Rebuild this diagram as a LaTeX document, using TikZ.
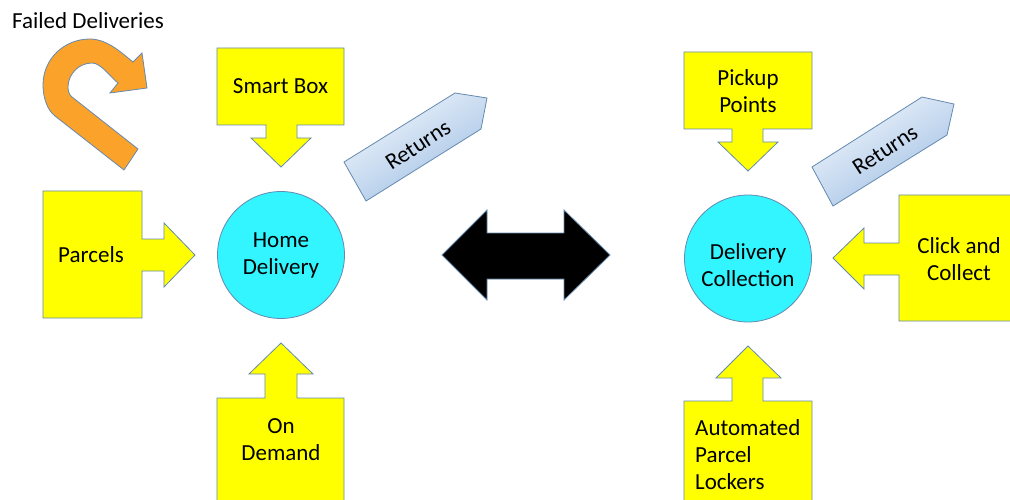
\documentclass[tikz,border=0pt]{standalone}
\usepackage{fontspec}
\setmainfont{Carlito}
\definecolor{cyanfill}{RGB}{50,245,255}
\definecolor{yel}{RGB}{255,255,0}
\definecolor{edge}{RGB}{100,138,176}
\definecolor{orng}{RGB}{250,162,42}
\definecolor{rettop}{RGB}{240,245,252}
\definecolor{retbot}{RGB}{160,192,228}
\begin{document}
\begin{tikzpicture}[x=1pt,y=-1pt,line join=miter,
  font=\fontsize{23}{27}\selectfont,
  callout/.style={fill=yel,draw=edge,line width=0.8pt},
  hub/.style={circle,fill=cyanfill,draw=edge,line width=0.8pt,minimum size=127pt,inner sep=0pt},
  lbl/.style={align=center,inner sep=0pt},
  retshape/.style={top color=rettop,bottom color=retbot,shading angle=32,draw=edge,line width=0.8pt},
  rettext/.style={inner sep=0pt,rotate=33},
  uturn/.style={fill=orng,draw=edge,line width=0.8pt},
  dbl/.style={fill=black,draw=edge,line width=0.8pt}]
\useasboundingbox (0,0) rectangle (1010,500);
\clip (0,0) rectangle (1010,500);

% Failed deliveries label and U-turn arrow
\node[anchor=base west,inner sep=0pt] (fd) at (12,29) {Failed Deliveries};
\path[uturn] (124,170) -- (55,116)
  .. controls (47,109.8) and (43,97) .. (43,85)
  .. controls (43,59) and (64,39) .. (90,39)
  .. controls (108,39) and (124,55) .. (133,62)
  -- (142,53) -- (147,88) -- (110,93) -- (118,83)
  .. controls (110,76.6) and (101,63) .. (92,63)
  .. controls (78,63) and (68,75) .. (68,87)
  .. controls (68,91) and (69,94.5) .. (72,97)
  -- (138,149) -- cycle;

% Smart Box (down)
\path[callout] (217,48) -- (344,48) -- (344,125) -- (297,125) -- (297,138) -- (311,138) -- (281,167)
  -- (251,138) -- (266,138) -- (266,125) -- (217,125) -- cycle;
\node[lbl] (smart) at (280.5,86.5) {Smart Box};

% Parcels (right)
\path[callout] (43,191) -- (142,191) -- (142,239) -- (164,239) -- (164,223) -- (195,255) -- (164,287)
  -- (164,271) -- (142,271) -- (142,318) -- (43,318) -- cycle;
\node[lbl] (parcels) at (91,255) {Parcels};

% On Demand (up)
\path[callout] (217,510) -- (217,398) -- (265,398) -- (265,374) -- (249,374) -- (281,343) -- (313,374)
  -- (297,374) -- (297,398) -- (344,398) -- (344,510) -- cycle;
\node[lbl] (ondemand) at (281,440) {On\\Demand};

% Home delivery hub
\node[hub] (home) at (281,255) {};
\node[lbl] (hometext) at (281,255) {Home\\Delivery};

% Returns (left)
\path[retshape] (344,162) -- (366,201) -- (481,129) -- (487,98) -- (455,93) -- cycle;
\node[rettext] (ret1) at (418,145) {Returns};

% Double arrow
\path[dbl] (442,255) -- (487,210) -- (487,233) -- (564,233) -- (564,210) -- (610,255) -- (564,300)
  -- (564,279) -- (487,279) -- (487,300) -- cycle;

% Pickup Points (down)
\path[callout] (684,52) -- (812,52) -- (812,129) -- (763,129) -- (763,142) -- (778,142) -- (748,171)
  -- (718,142) -- (732,142) -- (732,129) -- (684,129) -- cycle;
\node[lbl] (pickup) at (748,91.5) {Pickup\\Points};

% Returns (right)
\path[retshape] (812,167) -- (833,206) -- (947,135) -- (954,104) -- (922,97) -- cycle;
\node[rettext] (ret2) at (885,150) {Returns};

% Delivery collection hub
\node[hub] (dc) at (748,258.5) {};
\node[lbl] (dctext) at (748,265) {Delivery\\Collection};

% Click and Collect (left)
\path[callout] (1020,195) -- (899,195) -- (899,243) -- (864,243) -- (864,228) -- (833,258) -- (864,289)
  -- (864,275) -- (899,275) -- (899,321) -- (1020,321) -- cycle;
\node[lbl] (click) at (959,259) {Click and\\Collect};

% Automated Parcel Lockers (up)
\path[callout] (684,510) -- (684,401) -- (732,401) -- (732,378) -- (716,378) -- (748,346) -- (781,378)
  -- (763,378) -- (763,401) -- (812,401) -- (812,510) -- cycle;
\node[lbl,align=left,anchor=west] (apl) at (695,455) {Automated\\Parcel\\Lockers};
\end{tikzpicture}
\end{document}
